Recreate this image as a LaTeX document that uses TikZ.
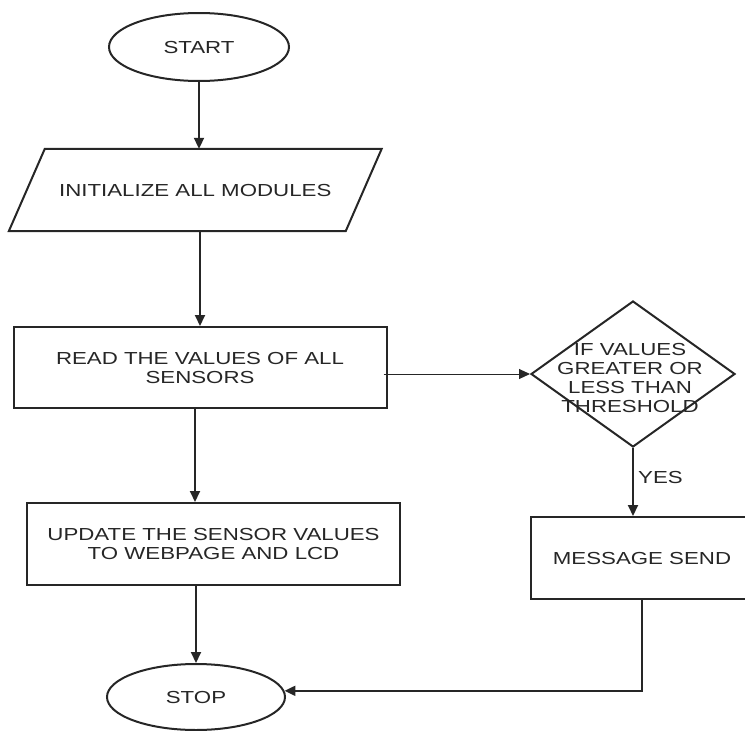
\documentclass[tikz,border=0pt]{standalone}
\usepackage{fontspec}
\setmainfont{Liberation Sans}
\usepackage{graphicx}
\usetikzlibrary{shapes.geometric,arrows.meta}
\newcommand{\wtxt}[1]{\raisebox{-2.5pt}[\height][\depth]{\scalebox{1.28}[1]{\begin{tabular}{@{}c@{}}#1\end{tabular}}}}
\tikzset{
	txt/.style={text=black!85,font=\fontsize{17.4}{19}\selectfont,inner sep=0pt},
	base/.style={txt,draw=black!85,line width=2pt},
	term/.style={base,ellipse,minimum width=180pt,minimum height=68pt},
	proc/.style 2 args={base,rectangle,minimum width=#1,minimum height=#2},
	decision/.style={base,diamond,minimum width=204pt,minimum height=146pt},
	flow/.style={draw=black!85,line width=2pt,-{Triangle[length=11pt,width=10pt]}},
	link/.style={draw=black!85,line width=1pt,-{Triangle[length=11pt,width=10pt]}}
}
\begin{document}
\begin{tikzpicture}[x=1pt,y=-1pt]
	\useasboundingbox (0,0) rectangle (745,731);
	\node [term] (start) at (199,47) {\wtxt{START}};
	\node [txt,minimum width=336.5pt,minimum height=82pt] (init) at (195.25,190) {\wtxt{INITIALIZE ALL MODULES}};
	\draw [draw=black!85,line width=2pt] ([xshift=18pt]init.north west) -- ([xshift=18pt]init.north east)
		-- ([xshift=-18pt]init.south east) -- ([xshift=-18pt]init.south west) -- cycle;
	\node [proc={373pt}{81pt}] (read) at (200,367.5) {\wtxt{READ THE VALUES OF ALL\\SENSORS}};
	\node [decision,label={[txt,xshift=-3pt,yshift=-4pt]center:{\wtxt{IF VALUES\\GREATER OR\\LESS THAN\\THRESHOLD}}}] (dec) at (633,374) {};
	\node [txt] (yes) at (660.5,477) {\wtxt{YES}};
	\node [proc={223pt}{82pt}] (msg) at (642,558) {\wtxt{MESSAGE SEND}};
	\node [proc={373pt}{82pt}] (upd) at (213.5,544) {\wtxt{UPDATE THE SENSOR VALUES\\TO WEBPAGE AND LCD}};
	\node [term,minimum width=178pt,minimum height=66pt] (stop) at (196,697) {\wtxt{STOP}};

	\draw [flow] (start.south) -- (start.south |- init.north);
	\draw [flow] (read.north |- init.south) -- (read.north);
	\draw [link] ([xshift=-4pt]read.east |- dec.west) -- (dec.west);
	\draw [flow] ([xshift=-5pt]read.south) -- ([xshift=-5pt]read.south |- upd.north);
	\draw [flow] (dec.south) -- (dec.south |- msg.north);
	\draw [flow] (stop.north |- upd.south) -- (stop.north);
	\draw [flow] (msg.south) |- (stop.4);
\end{tikzpicture}
\end{document}
